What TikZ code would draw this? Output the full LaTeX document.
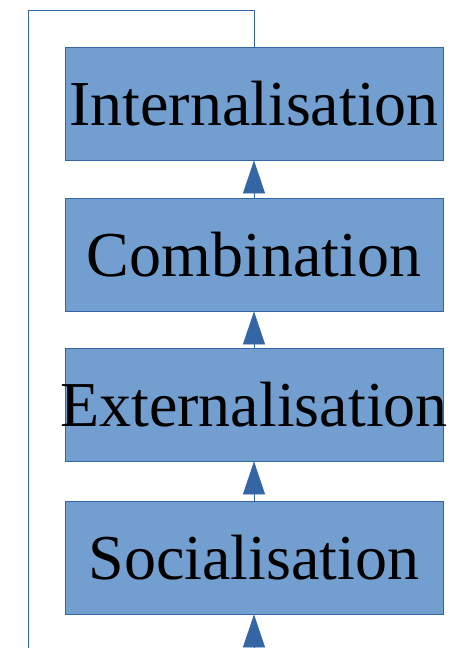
\documentclass[tikz,border=0pt]{standalone}
\usepackage{fontspec}
\setmainfont{Liberation Serif}
\usetikzlibrary{arrows.meta}
\definecolor{boxfill}{HTML}{729FCF}
\definecolor{boxline}{HTML}{3465A4}
% label that may run past the edges of its box without widening it
\newcommand{\stagelabel}[1]{\makebox[0pt]{#1}}
\begin{document}
\begin{tikzpicture}[x=1pt,y=-1pt,
  stage/.style={draw=boxline, line width=0.8pt, fill=boxfill, minimum width=378pt,
    minimum height=113pt, inner sep=0pt, font=\fontsize{64}{64}\selectfont},
  flow/.style={draw=boxline, line width=0.8pt,
    -{Triangle[length=33pt,width=22pt,fill=boxline]}},
  loop/.style={draw=boxline, line width=1pt}]
  \useasboundingbox (0,0) rectangle (463,648);
  \node[stage] (int) at (254,103.5) {\stagelabel{Internalisation}};
  \node[stage] (com) at (254,254.5) {\stagelabel{Combination}};
  \node[stage] (ext) at (254,404.5) {\stagelabel{Externalisation}};
  \node[stage] (soc) at (254,557.5) {\stagelabel{Socialisation}};
  \coordinate (in) at (254,648);
  \coordinate (tl) at (28,10);
  \coordinate (tr) at (254,10);
  \coordinate (bl) at (28,648);
  % upward flow between the stages
  \draw[flow] (in) -- (soc.south);
  \draw[flow] (soc.north) -- (ext.south);
  \draw[flow] (ext.north) -- (com.south);
  \draw[flow] (com.north) -- (int.south);
  % feedback loop from the top stage back down the left side
  \draw[loop] (int.north) -- (tr) -- (tl) -- (bl);
\end{tikzpicture}
\end{document}
